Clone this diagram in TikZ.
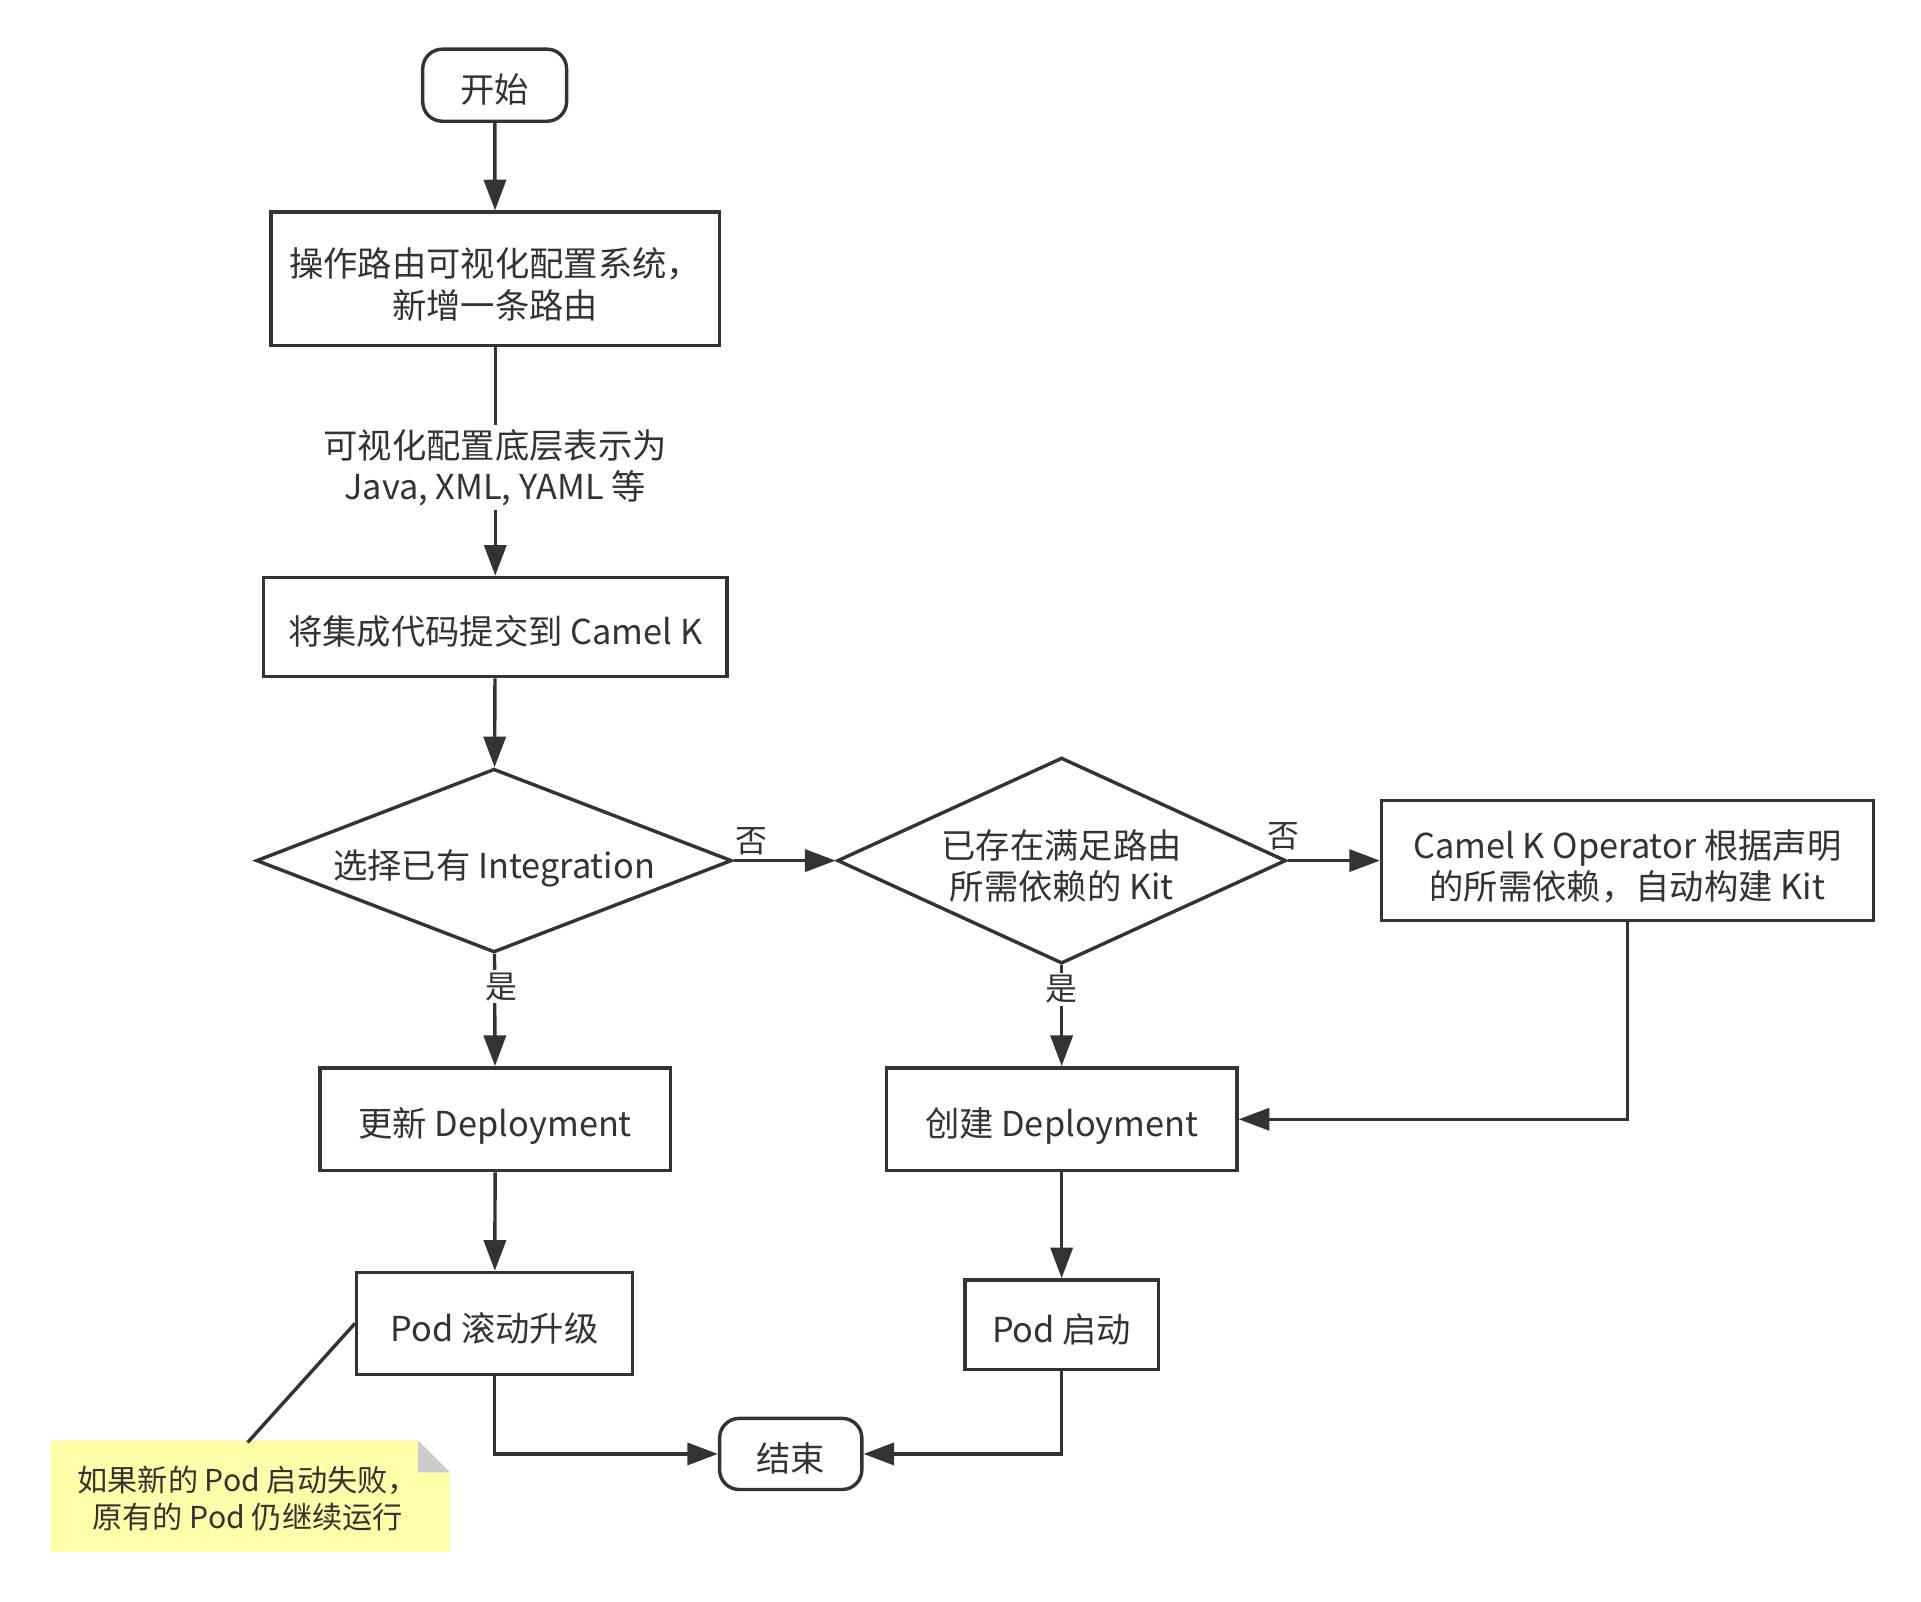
\documentclass[tikz,border=0pt]{standalone}
\usepackage{fontspec}
\setmainfont{Noto Sans CJK SC}
\usetikzlibrary{shapes.geometric,arrows.meta}
\definecolor{ink}{HTML}{333333}
\definecolor{notefill}{HTML}{FFFFAA}
\definecolor{foldfill}{HTML}{CCCCCC}
\begin{document}
\begin{tikzpicture}[x=0.5pt,y=-0.5pt,
  every node/.style={text=ink, font=\fontsize{14}{17}\selectfont, align=center},
  txt/.style={execute at begin node={\rule{0pt}{18.4pt}}, execute at end node={\rule[-4pt]{0pt}{4pt}}},
  txttwo/.style={execute at begin node={\rule{0pt}{36pt}}, execute at end node={\rule[-4pt]{0pt}{4pt}}},
  shp/.style={draw=ink, line width=1.4pt, inner sep=0pt},
  box/.style={shp, rectangle, txt},
  boxtwo/.style={shp, rectangle, txttwo},
  term/.style={shp, rectangle, rounded corners=8pt, txt},
  dia/.style={shp, diamond, aspect=2.5, txt},
  diatwo/.style={shp, diamond, aspect=2.5, txttwo, inner xsep=0pt, inner ysep=-20pt},
  arr/.style={draw=ink, line width=1.4pt, -{Triangle[length=12.5pt,width=9pt]}},
  lbl/.style={fill=white, inner sep=1pt, font=\fontsize{13}{15}\selectfont},
]
\fill[white] (0,0) rectangle (1567,1306.7);
\useasboundingbox (0,0) rectangle (1567,1306.7);

% nodes
\node[term, minimum width=58.7pt, minimum height=29.4pt] (start) at (403.5,69.5) {开始};
\node[boxtwo, minimum width=183pt, minimum height=54.5pt] (b1) at (404,227.5) {操作路由可视化配置系统，\\新增一条路由};
\node[box, minimum width=189pt, minimum height=40.5pt] (b2) at (404,511.5) {将集成代码提交到 Camel K};
\node[dia, minimum width=194pt, minimum height=74.5pt] (d1) at (403,702) {选择已有 Integration};
\node[diatwo, minimum width=183pt, minimum height=84pt] (d2) at (866,702) {已存在满足路由\\所需依赖的 Kit};
\node[boxtwo, minimum width=200.5pt, minimum height=49pt] (b3) at (1327.5,702) {Camel K Operator 根据声明\\的所需依赖，自动构建 Kit};
\node[box, minimum width=143pt, minimum height=42pt] (b4) at (404,913) {更新 Deployment};
\node[box, minimum width=143pt, minimum height=42pt] (b5) at (866,913) {创建 Deployment};
\node[box, minimum width=112.5pt, minimum height=41.5pt] (b6) at (403.5,1079.5) {Pod 滚动升级};
\node[box, minimum width=79pt, minimum height=36.5pt] (b7) at (866,1080.5) {Pod 启动};
\node[term, minimum width=58pt, minimum height=29pt] (end) at (645,1186) {结束};

% note
\fill[notefill] (41,1175) -- (341,1175) -- (367,1201) -- (367,1266) -- (41,1266) -- cycle;
\fill[foldfill] (341,1175) -- (341,1201) -- (367,1201) -- cycle;
\node[minimum width=163pt, minimum height=45.5pt, inner sep=0pt, font=\fontsize{12.3}{15}\selectfont] (note) at (202,1222.5) {如果新的 Pod 启动失败，\\原有的 Pod 仍继续运行};

% connectors
\draw[arr] (start) -- (b1);
\draw[arr] (b1) -- node[fill=white, inner xsep=2pt, inner ysep=1.5pt, yshift=-2.5pt] {可视化配置底层表示为\\Java, XML, YAML 等} (b2);
\draw[arr] (b2) -- (d1);
\draw[arr] (d1) -- (d2);
\node[lbl, fill=none] (no1) at (613,686) {否};
\draw[arr] (d2) -- (b3);
\node[lbl, fill=none] (no2) at (1047,682) {否};
\draw[arr] (d1) -- (b4);
\node[lbl] (yes1) at (409,805) {是};
\draw[arr] (d2) -- (b5);
\node[lbl] (yes2) at (866,807) {是};
\draw[arr] (b3.south) |- (b5.east);
\draw[arr] (b4) -- (b6);
\draw[arr] (b5) -- (b7);
\draw[arr] (b6.south) |- (end.west);
\draw[arr] (b7.south) |- (end.east);
\draw[ink, line width=1.4pt] (b6.west) -- (note.north);
\end{tikzpicture}
\end{document}
